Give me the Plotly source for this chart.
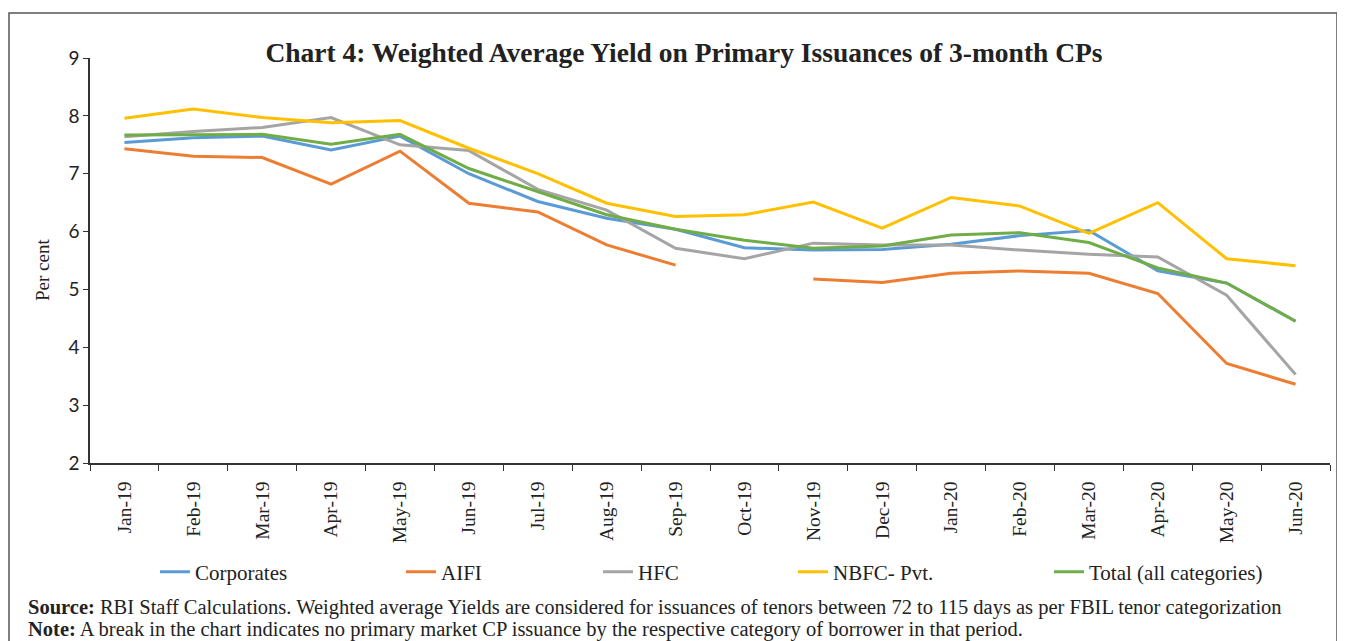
import plotly.graph_objects as go

months = ["Jan-19", "Feb-19", "Mar-19", "Apr-19", "May-19", "Jun-19", "Jul-19", "Aug-19", "Sep-19",
          "Oct-19", "Nov-19", "Dec-19", "Jan-20", "Feb-20", "Mar-20", "Apr-20", "May-20", "Jun-20"]

corporates = [7.54, 7.62, 7.65, 7.41, 7.65, 7.00, 6.52, 6.23, 6.04, 5.72, 5.68, 5.69, 5.78, 5.93, 6.02, 5.32, 5.11, 4.45]
aifi = [7.43, 7.30, 7.28, 6.82, 7.39, 6.49, 6.34, 5.77, 5.42, None, 5.18, 5.12, 5.28, 5.32, 5.28, 4.93, 3.72, 3.36]
hfc = [7.64, 7.73, 7.80, 7.97, 7.50, 7.40, 6.73, 6.37, 5.71, 5.53, 5.80, 5.77, 5.77, 5.68, 5.61, 5.56, 4.90, 3.53]
nbfc_pvt = [7.96, 8.12, 7.97, 7.88, 7.92, 7.44, 7.00, 6.49, 6.26, 6.29, 6.51, 6.06, 6.59, 6.44, 5.97, 6.50, 5.53, 5.41]
total = [7.67, 7.68, 7.68, 7.51, 7.68, 7.09, 6.69, 6.29, 6.04, 5.85, 5.71, 5.75, 5.94, 5.98, 5.81, 5.37, 5.11, 4.45]

series = [
    ("Corporates", corporates, "#5B9BD5", "legend"),
    ("AIFI", aifi, "#ED7D31", "legend2"),
    ("HFC", hfc, "#A5A5A5", "legend3"),
    ("NBFC- Pvt.", nbfc_pvt, "#FFC000", "legend4"),
    ("Total (all categories)", total, "#70AD47", "legend5"),
]

SERIF = "Liberation Serif"
OFF = 8  # page body margin

fig = go.Figure()
for name, vals, color, lg in series:
    fig.add_trace(go.Scatter(
        x=months, y=vals, mode="lines", name=name,
        line=dict(color=color, width=3), connectgaps=False, legend=lg,
    ))

W, H = 1345 - OFF, 641 - OFF
L, T = 90 - OFF, 58 - OFF
R = W - (1330 - OFF)
B = H - (463 - OFF)
pw, ph = W - L - R, H - T - B

def px(x):
    return (x - OFF - L) / pw

def py(y):
    return (H - B - (y - OFF)) / ph

legend_x = [152, 398, 595, 790, 1046]
legend_common = dict(orientation="h", yanchor="middle", xanchor="left",
                     font=dict(family=SERIF, size=21, color="#222"), bgcolor="rgba(0,0,0,0)")
layout_legends = {}
for i, lx in enumerate(legend_x):
    key = "legend" if i == 0 else f"legend{i+1}"
    layout_legends[key] = dict(x=px(lx + 3), y=py(572), **legend_common)

fig.update_layout(
    width=W, height=H,
    margin=dict(l=L, r=R, t=T, b=B),
    paper_bgcolor="white", plot_bgcolor="white",
    title=dict(text="<b>Chart 4: Weighted Average Yield on Primary Issuances of 3-month CPs</b>",
               xref="paper", x=px(684), xanchor="center", y=1 - (52 - OFF) / H, yanchor="middle",
               font=dict(family=SERIF, size=27.5, color="#222")),
    xaxis=dict(type="category", range=[-0.5, 17.5], tickson="boundaries", ticks="outside",
               ticklen=6, tickcolor="#333", showline=True, linecolor="#333", linewidth=1.5,
               showgrid=False, tickangle=-90, ticklabelstandoff=9,
               tickfont=dict(family=SERIF, size=19.5, color="#222")),
    yaxis=dict(range=[2, 9], dtick=1, ticks="outside", ticklen=5, tickcolor="#333",
               showline=True, linecolor="#333", linewidth=1.5, showgrid=False, zeroline=False,
               tickfont=dict(family="Lato", size=19, color="#222")),
    showlegend=True,
    **layout_legends,
)

fig.add_annotation(text="Per cent", textangle=-90, x=px(42), y=py(270), xref="paper", yref="paper",
                   xanchor="center", yanchor="middle",
                   showarrow=False, font=dict(family=SERIF, size=19, color="#222"))

fig.add_annotation(text="<b>Source:</b> RBI Staff Calculations. Weighted average Yields are considered for issuances of tenors between 72 to 115 days as per FBIL tenor categorization",
                   x=px(26), y=py(607), xref="paper", yref="paper", xanchor="left", yanchor="middle",
                   showarrow=False, font=dict(family=SERIF, size=20.5, color="#222"))
fig.add_annotation(text="<b>Note:</b> A break in the chart indicates no primary market CP issuance by the respective category of borrower in that period.",
                   x=px(26), y=py(629), xref="paper", yref="paper", xanchor="left", yanchor="middle",
                   showarrow=False, font=dict(family=SERIF, size=20.5, color="#222"))

fig.add_shape(type="rect", xref="paper", yref="paper",
              x0=px(9), x1=px(1337), y0=py(680), y1=py(13),
              line=dict(color="#555", width=1.5), fillcolor="rgba(0,0,0,0)", layer="below")

fig.write_html("out.html")
